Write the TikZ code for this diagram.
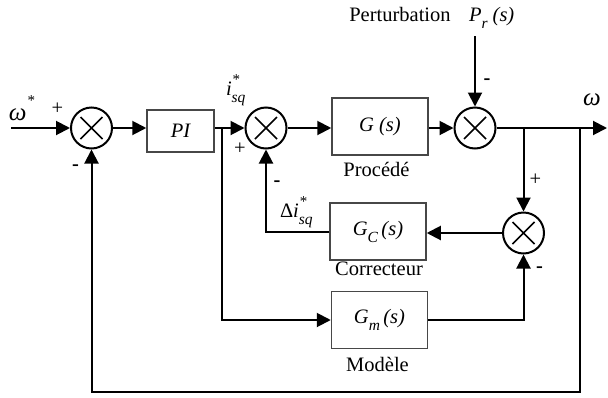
\documentclass[tikz,border=0pt]{standalone}
\usepackage{fontspec}
\usepackage{amsmath}
\setmainfont{Liberation Serif}
\usetikzlibrary{arrows.meta}
\newcommand{\subtxt}[1]{\raisebox{-7pt}{\fontsize{15.5}{15}\selectfont\itshape #1}}
\newcommand{\startxt}{\makebox[0pt][l]{\hspace{1pt}\raisebox{11pt}{\fontsize{15}{15}\selectfont *}}}
\newcommand{\omg}{{\fontsize{25}{25}\selectfont\itshape ω}}
\begin{document}
\begin{tikzpicture}[x=1pt,y=-1pt,
  font=\fontsize{20.5}{24}\selectfont,
  line width=2pt,
  arr/.style={-{Triangle[length=14pt,width=14pt]}},
  blk/.style={draw=black!72,line width=1.5pt,minimum width=96pt,minimum height=57pt,inner sep=0pt,font=\fontsize{20.5}{24}\selectfont\itshape},
  sumj/.style={circle,draw,line width=2pt,minimum size=41pt,inner sep=0pt,
    path picture={\draw[line width=1.6pt] (path picture bounding box.center) ++(-11,-11) -- ++(22,22)
      (path picture bounding box.center) ++(-11,11) -- ++(22,-22);}},
  lbl/.style={inner sep=0pt}
]
\useasboundingbox (0,0) rectangle (608,397);

% blocks
\node[sumj] (s1) at (91.5,128) {};
\node[blk,minimum width=67pt,minimum height=42pt] (pi) at (180.5,131) {PI};
\node[sumj] (s2) at (266,128) {};
\node[blk] (g) at (380,126.5) {G (s)};
\node[sumj] (s3) at (475,128) {};
\node[sumj] (s4) at (523.5,233) {};
\node[blk] (gc) at (378,231.5) {G\subtxt{C}\,(s)};
\node[blk] (gm) at (379.5,320) {G\subtxt{m}\,(s)};

% coordinates
\coordinate (in) at (11,128);
\coordinate (b1) at (222,128);
\coordinate (pt) at (475,36);
\coordinate (out) at (607,128);
\coordinate (b2) at (523.5,128);
\coordinate (b3) at (580,128);
\coordinate (c3) at (580,392);

% connectors
\draw[arr] (in) -- (s1.west);
\draw[arr] (s1.east) -- (s1.east -| pi.west);
\draw (pi.east |- s2.west) -- (b1);
\draw[arr] (b1) -- (s2.west);
\draw[arr] (b1) |- (gm.west);
\draw[arr] (s2.east) -- (s2.east -| g.west);
\draw[arr] (g.east |- s3.west) -- (s3.west);
\draw[arr] (pt) -- (s3.north);
\draw[arr] (s3.east) -- (out);
\draw[arr] (b2) -- (s4.north);
\draw[arr] (b3) -- (c3) -| (s1.south);
\draw[arr] (s4.west) -- (gc.east |- s4.west);
\draw[arr] (gc.west) -| (s2.south);
\draw[arr] (gm.east) -| (s4.south);

% labels
\node[lbl,anchor=base] (proc) at (376.5,176) {Procédé};
\node[lbl,anchor=base] (corr) at (379,275) {Correcteur};
\node[lbl,anchor=base] (mod) at (377.5,371) {Modèle};
\node[lbl,anchor=base] (pert) at (400,21) {Perturbation};
\node[lbl,anchor=base west] (pr) at (468,21) {\textit{P}\subtxt{r}\textit{ (s)}};
\node[lbl,anchor=base west] (w) at (582,105) {\omg};
\node[lbl,anchor=base west] (wst) at (8,120) {\omg\hspace{1pt}\raisebox{15pt}{\fontsize{15}{15}\selectfont *}};
\node[lbl,anchor=base west] (isq) at (225,95) {\textit{i}\startxt\subtxt{sq}};
\node[lbl,anchor=base west] (disq) at (279,217) {Δ\textit{i}\startxt\subtxt{sq}};

% signs
\node[lbl,anchor=base] (p1) at (57.5,114) {+};
\node[lbl,anchor=base] (m1) at (75.5,170.5) {\textbf{-}};
\node[lbl,anchor=base] (p2) at (240,154) {+};
\node[lbl,anchor=base] (m2) at (277,186.5) {\textbf{-}};
\node[lbl,anchor=base] (m3) at (487,84.5) {\textbf{-}};
\node[lbl,anchor=base] (p4) at (535.5,185) {+};
\node[lbl,anchor=base] (m4) at (539.5,272.5) {\textbf{-}};
\end{tikzpicture}
\end{document}
